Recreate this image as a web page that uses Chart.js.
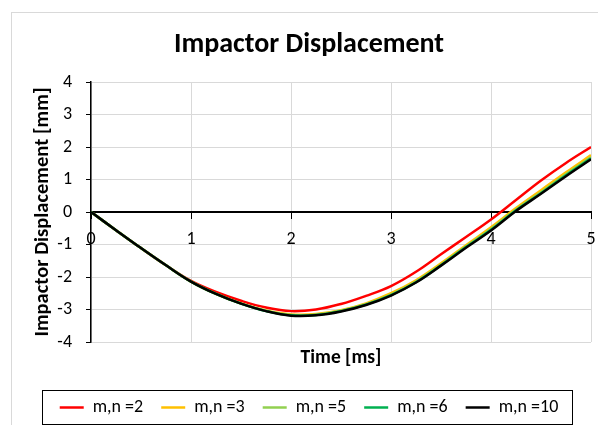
<!DOCTYPE html>
<html><head><meta charset="utf-8">
<script src="https://cdn.jsdelivr.net/npm/chart.js@4.4.1/dist/chart.umd.min.js"></script>
<style>
html,body{margin:0;padding:0;background:#fff;overflow:hidden;width:598px;height:425px;}
#frame{position:absolute;left:11px;top:12px;width:640px;height:480px;border:1px solid #d9d9d9;box-sizing:border-box;}
#wrap{position:absolute;left:0;top:0;width:598px;height:425px;}
</style></head><body>
<div id="frame"></div>
<div id="wrap"><canvas id="c"></canvas></div>
<script>
// ---- data ----
const times = [0, 0.25, 0.5, 0.75, 1, 1.25, 1.5, 1.75, 2, 2.25, 2.5, 2.75, 3, 3.25, 3.5, 3.75, 4, 4.25, 4.5, 4.75, 5];
const seriesLabels = ['m,n =2', 'm,n =3', 'm,n =5', 'm,n =6', 'm,n =10'];
const mn2  = [0, -0.56, -1.11, -1.64, -2.12, -2.46, -2.73, -2.94, -3.05, -3.00, -2.83, -2.58, -2.28, -1.84, -1.30, -0.77, -0.23, 0.37, 0.97, 1.51, 2.00];
const mn3  = [0, -0.56, -1.11, -1.64, -2.14, -2.52, -2.81, -3.03, -3.15, -3.14, -3.02, -2.81, -2.50, -2.10, -1.58, -1.02, -0.47, 0.12, 0.67, 1.22, 1.75];
const mn5  = [0, -0.56, -1.11, -1.64, -2.14, -2.52, -2.82, -3.04, -3.17, -3.16, -3.04, -2.84, -2.54, -2.14, -1.62, -1.06, -0.52, 0.07, 0.61, 1.16, 1.68];
const mn6  = [0, -0.56, -1.11, -1.64, -2.14, -2.52, -2.82, -3.05, -3.18, -3.17, -3.05, -2.85, -2.56, -2.16, -1.64, -1.08, -0.55, 0.05, 0.58, 1.13, 1.65];
const mn10 = [0, -0.56, -1.11, -1.64, -2.14, -2.52, -2.82, -3.05, -3.19, -3.18, -3.06, -2.86, -2.57, -2.17, -1.65, -1.10, -0.57, 0.03, 0.56, 1.10, 1.62];
const xTickValues = [0, 1, 2, 3, 4, 5];
const yTickValues = [-4, -3, -2, -1, 0, 1, 2, 3, 4];
const seriesColors = ['#ff0000', '#ffc000', '#92d050', '#00b050', '#000000'];

const FONT = 'Carlito, Lato, sans-serif';
const allSeries = [mn2, mn3, mn5, mn6, mn10];

const datasets = allSeries.map((vals, i) => ({
  label: seriesLabels[i],
  data: vals.map((v, j) => ({x: times[j], y: v})),
  borderColor: seriesColors[i],
  backgroundColor: seriesColors[i],
  borderWidth: 2.5,
  pointRadius: 0,
  fill: false,
  tension: 0.4,
  order: allSeries.length - i
}));

const legendFrame = {
  id: 'legendFrame',
  afterDraw(chart) {
    const hb = chart.legend && chart.legend.legendHitBoxes;
    if (!hb || !hb.length) return;
    let l = Infinity, r = -Infinity, t = Infinity, b = -Infinity;
    hb.forEach(h => { l = Math.min(l, h.left); r = Math.max(r, h.left + h.width); t = Math.min(t, h.top); b = Math.max(b, h.top + h.height); });
    const ctx = chart.ctx;
    ctx.save();
    ctx.strokeStyle = '#000';
    ctx.lineWidth = 1;
    ctx.strokeRect(Math.round(l - 18) + 0.5, Math.round(t - 9) + 0.5, Math.round(r - l + 31), Math.round(b - t + 16));
    ctx.restore();
  }
};

const noSidePad = s => { s.paddingLeft = 0; s.paddingRight = 0; };

new Chart(document.getElementById('c'), {
  type: 'line',
  data: { datasets },
  plugins: [legendFrame],
  options: {
    responsive: true,
    maintainAspectRatio: false,
    animation: false,
    layout: { padding: { top: 0, left: 27, right: 7, bottom: -1.5 } },
    plugins: {
      title: {
        display: true,
        text: 'Impactor Displacement',
        color: '#000',
        font: { family: FONT, size: 28, weight: 'bold' },
        padding: { top: 28.2, bottom: 20.2 }
      },
      legend: {
        position: 'bottom',
        labels: {
          color: '#000',
          font: { family: FONT, size: 18 },
          usePointStyle: true,
          pointStyle: 'line',
          pointStyleWidth: 24,
          padding: 18,
          sort: (a, b) => a.datasetIndex - b.datasetIndex
        }
      },
      tooltip: { enabled: false }
    },
    scales: {
      x: {
        type: 'linear',
        position: 'bottom',
        min: 0, max: 5,
        afterBuildTicks: s => { s.ticks = xTickValues.map(v => ({value: v})); },
        ticks: { display: false },
        grid: { color: '#d9d9d9', lineWidth: 1, drawTicks: false },
        border: { display: false },
        title: { display: true, text: 'Time [ms]', color: '#000', font: { family: FONT, size: 19.5, weight: 'bold' }, padding: { top: 0, bottom: 11 } },
        afterFit: s => { s.height = 38.5; noSidePad(s); }
      },
      x0: {
        type: 'linear',
        axis: 'x',
        position: { y: 0 },
        min: 0, max: 5,
        afterBuildTicks: s => { s.ticks = xTickValues.map(v => ({value: v})); },
        ticks: { color: '#000', font: { family: FONT, size: 18 }, padding: 11, maxRotation: 0 },
        grid: { drawOnChartArea: false, drawTicks: true, tickLength: 6, color: '#000', lineWidth: 1 },
        border: { color: '#000', width: 2 },
        afterFit: noSidePad
      },
      y: {
        type: 'linear',
        position: 'left',
        min: -4, max: 4,
        afterBuildTicks: s => { s.ticks = yTickValues.map(v => ({value: v})); },
        ticks: { color: '#000', font: { family: FONT, size: 18 }, padding: 14 },
        grid: { color: '#d9d9d9', lineWidth: 1, tickColor: '#000', tickLength: 5 },
        border: { color: '#000', width: 1.5 },
        title: { display: true, text: 'Impactor Displacement [mm]', color: '#000', font: { family: FONT, size: 20.5, weight: 'bold' }, padding: { top: 4, bottom: 0 } },
        afterFit: s => { s.width = 64; }
      }
    }
  }
});
</script>
</body></html>
